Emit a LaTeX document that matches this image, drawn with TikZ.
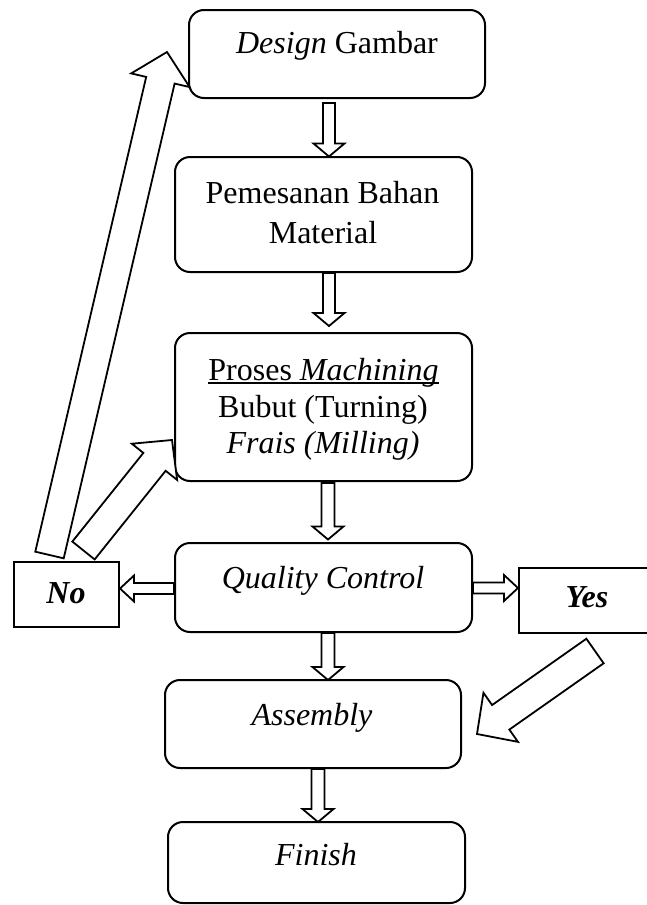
\documentclass[tikz,border=0pt]{standalone}
\usepackage{fontspec}
\setmainfont{Liberation Serif}
\usetikzlibrary{calc}
\newcommand\blockarr[5]{%
  \coordinate (bah) at ($(#2)!#5!(#1)$);
  \draw[blockarrow] ($(#1)!#3!90:(#2)$) -- ($(bah)!#3!90:(#2)$) -- ($(bah)!#4!90:(#2)$) -- (#2)
    -- ($(bah)!#4!-90:(#2)$) -- ($(bah)!#3!-90:(#2)$) -- ($(#1)!#3!-90:(#2)$) -- cycle;}
\begin{document}
\begin{tikzpicture}[x=1pt,y=-1pt,
  box/.style={draw,line width=2pt,rounded corners=15pt,inner sep=0pt},
  sqbox/.style={draw,line width=2pt,inner sep=0pt},
  txt/.style={inner sep=0pt,anchor=base,font=\fontsize{32}{37}\selectfont},
  blockarrow/.style={draw,fill=white,line width=1.8pt,line join=miter}]
\useasboundingbox (0,0) rectangle (646,905);
% boxes
\node[box,minimum width=296pt,minimum height=88pt] (design) at (337,54) {};
\node[box,minimum width=297pt,minimum height=115pt] (pemesan) at (323.5,214.5) {};
\node[box,minimum width=297pt,minimum height=148pt] (machining) at (323.5,407) {};
\node[box,minimum width=297pt,minimum height=89pt] (qc) at (323.5,587.5) {};
\node[sqbox,minimum width=105pt,minimum height=65pt] (no) at (66.5,594.5) {};
\node[sqbox,minimum width=133pt,minimum height=65pt] (yes) at (585.5,600.5) {};
\node[box,minimum width=296pt,minimum height=88pt] (assembly) at (313,724) {};
\node[box,minimum width=297pt,minimum height=81pt] (finish) at (316.5,862.5) {};
% texts
\node[txt] (tdesign) at (337,53) {\textit{Design} Gambar};
\node[txt] (tpem1) at (322.5,203) {Pemesanan Bahan};
\node[txt] (tpem2) at (323,243) {Material};
\node[txt] (tmac1) at (323.5,380) {Proses \textit{Machining}};
\draw[line width=1.5pt] ([yshift=-3pt]tmac1.base west) -- ([yshift=-3pt]tmac1.base east);
\node[txt] (tmac2) at (323,417) {Bubut (Turning)};
\node[txt] (tmac3) at (323,453) {\textit{Frais (Milling)}};
\node[txt] (tqc) at (323,588) {\textit{Quality Control}};
\node[txt] (tno) at (66,603) {\textbf{\textit{No}}};
\node[txt] (tyes) at (587,607) {\textbf{\textit{Yes}}};
\node[txt] (tass) at (312,725) {\textit{Assembly}};
\node[txt] (tfin) at (316,865) {\textit{Finish}};
% vertical arrows
\coordinate (a1s) at (329,103); \coordinate (a1e) at (329,156.5);
\coordinate (a2s) at (329,273); \coordinate (a2e) at (329,326);
\coordinate (a3s) at (328,483); \coordinate (a3e) at (328,539.5);
\coordinate (a4s) at (328,633); \coordinate (a4e) at (328,680);
\coordinate (a5s) at (318,769); \coordinate (a5e) at (318,822);
\blockarr{a1s}{a1e}{6pt}{15.5pt}{13pt}
\blockarr{a2s}{a2e}{6pt}{15.5pt}{13pt}
\blockarr{a3s}{a3e}{6.5pt}{15.5pt}{13pt}
\blockarr{a4s}{a4e}{6.5pt}{15.5pt}{13pt}
\blockarr{a5s}{a5e}{6.5pt}{15.5pt}{13pt}
% horizontal arrows
\coordinate (hns) at (qc.west |- 0,588.5); \coordinate (hne) at (no.east |- 0,588.5);
\coordinate (hys) at (qc.east |- 0,588); \coordinate (hye) at (yes.west |- 0,588);
\blockarr{hns}{hne}{5.5pt}{13pt}{14pt}
\blockarr{hys}{hye}{5.5pt}{13pt}{14pt}
% diagonal arrows
\coordinate (d1s) at (49.5,555); \coordinate (d1e) at (167,52);
\coordinate (d2s) at (83.5,550.5); \coordinate (d2e) at (172,440);
\coordinate (d3s) at (595,651); \coordinate (d3e) at (477,734);
\blockarr{d1s}{d1e}{14.6pt}{30pt}{29pt}
\blockarr{d2s}{d2e}{14.3pt}{29pt}{28pt}
\blockarr{d3s}{d3e}{15pt}{30pt}{29pt}
\end{tikzpicture}
\end{document}
